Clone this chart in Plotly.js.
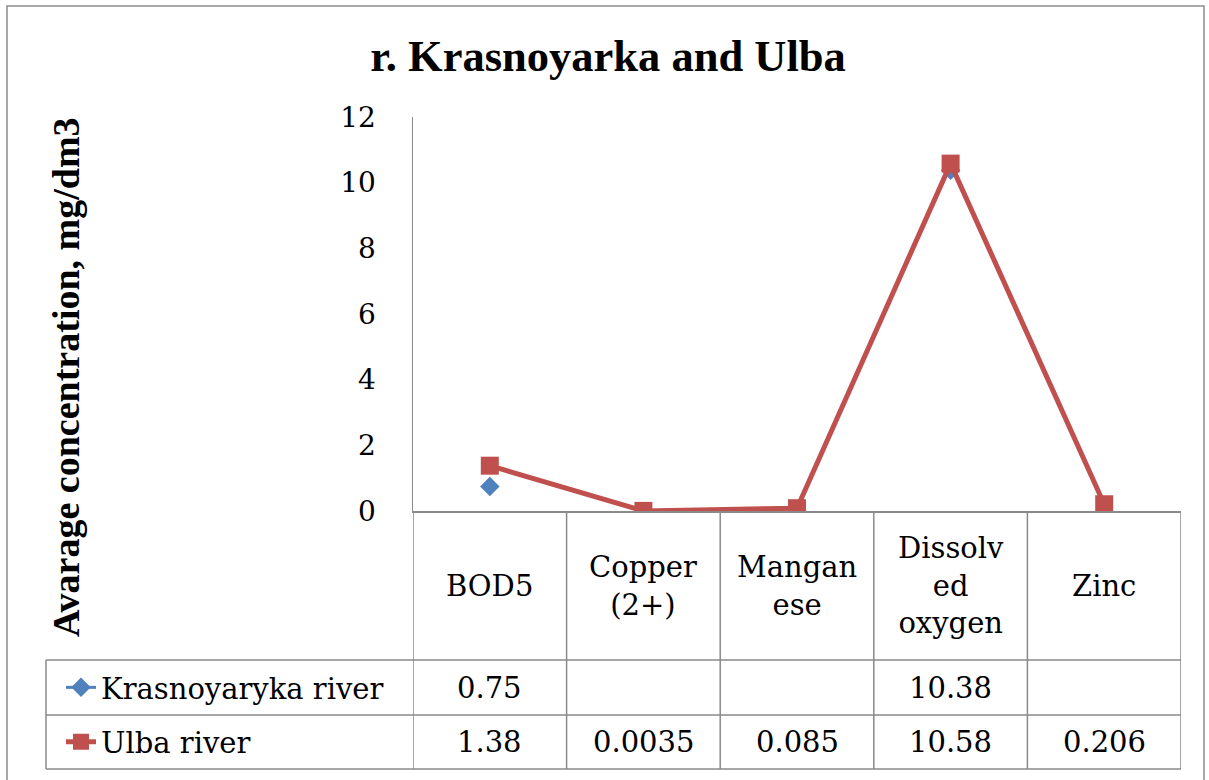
<!DOCTYPE html>
<html>
<head>
<meta charset="utf-8">
<script src="https://cdn.plot.ly/plotly-3.0.1.min.js"></script>
<style>html,body{margin:0;padding:0;background:#fff;}#chart{width:1209px;height:780px;}</style>
</head>
<body>
<div id="chart"></div>
<script>
// ---- data ----
const categories = ["BOD5", "Copper<br>(2+)", "Mangan<br>ese", "Dissolv<br>ed<br>oxygen", "Zinc"];
const seriesNames = ["Krasnoyaryka river", "Ulba river"];
const krasnoyarka = [0.75, null, null, 10.38, null];
const ulba = [1.38, 0.0035, 0.085, 10.58, 0.206];
const yTicks = [0, 2, 4, 6, 8, 10, 12];
const chartTitle = "r. Krasnoyarka and Ulba";
const yTitle = "Avarage concentration, mg/dm3";

// ---- layout helpers (pixel -> paper) ----
const W = 1209, H = 780;
const L = 413, R = 1181, T = 117, B = 511;
const px = v => (v - L) / (R - L);
const py = v => (B - v) / (B - T);
const FONT = "DejaVu Serif, serif";
const FONT_BOLD = "Liberation Serif, serif";
const GRID = "#8a8a8a";

const idx = categories.map((_, i) => i);

const traces = [
  {
    x: idx, y: krasnoyarka, name: seriesNames[0], type: "scatter", mode: "lines+markers",
    connectgaps: false,
    line: {color: "#4F81BD", width: 3},
    marker: {symbol: "diamond", size: 15, color: "#4F81BD"},
    legend: "legend", hoverinfo: "skip"
  },
  {
    x: idx, y: ulba, name: seriesNames[1], type: "scatter", mode: "lines+markers",
    line: {color: "#C0504D", width: 5},
    marker: {symbol: "square", size: 18, color: "#C0504D"},
    legend: "legend2", hoverinfo: "skip"
  }
];

const shapes = [];
// outer chart border
shapes.push({type: "rect", xref: "paper", yref: "paper", x0: px(7), x1: px(1204), y0: py(800), y1: py(6),
  line: {color: "#8c8c8c", width: 1.5}, layer: "below"});
// table vertical lines at category boundaries
for (let i = 0; i <= categories.length; i++) {
  shapes.push({type: "line", xref: "x", yref: "paper", x0: i - 0.5, x1: i - 0.5, y0: py(511), y1: py(769),
    line: {color: GRID, width: 1.5}, layer: "below"});
}
// table horizontal lines
[660, 715, 769].forEach(v => {
  shapes.push({type: "line", xref: "paper", yref: "paper", x0: px(46), x1: 1, y0: py(v), y1: py(v),
    line: {color: GRID, width: 1.5}, layer: "below"});
});
// legend column left edge
shapes.push({type: "line", xref: "paper", yref: "paper", x0: px(46), x1: px(46), y0: py(660), y1: py(769),
  line: {color: GRID, width: 1.5}, layer: "below"});

const annotations = [];
categories.forEach((c, i) => {
  annotations.push({xref: "x", yref: "paper", x: i, y: py(585.5), text: c, showarrow: false,
    xanchor: "center", yanchor: "middle", align: "center", font: {family: FONT, size: 29, color: "#000"}});
});
const rowsY = [687.5, 742];
[krasnoyarka, ulba].forEach((s, r) => {
  s.forEach((v, i) => {
    if (v === null) return;
    annotations.push({xref: "x", yref: "paper", x: i, y: py(rowsY[r]), text: String(v), showarrow: false,
      xanchor: "center", yanchor: "middle", font: {family: FONT, size: 29, color: "#000"}});
  });
});
// y axis title (placed to match the reference position)
annotations.push({xref: "paper", yref: "paper", x: px(66), y: py(377), text: yTitle, textangle: -90,
  showarrow: false, xanchor: "center", yanchor: "middle",
  font: {family: FONT_BOLD, size: 38, weight: "bold", color: "#000"}});

const legendBase = {xref: "paper", yref: "paper", xanchor: "left", yanchor: "middle",
  bgcolor: "rgba(0,0,0,0)", borderwidth: 0, font: {family: FONT, size: 29, color: "#000"},
  itemwidth: 30};

const layout = {
  width: W, height: H,
  margin: {l: L, r: W - R, t: T, b: H - B, pad: 0},
  paper_bgcolor: "#fff", plot_bgcolor: "#fff",
  font: {family: FONT},
  title: {text: chartTitle, xref: "container", yref: "container", x: 608 / W, y: 1 - 55 / H,
    xanchor: "center", yanchor: "middle",
    font: {family: FONT_BOLD, size: 44.5, weight: "bold", color: "#000"}},
  xaxis: {range: [-0.5, categories.length - 0.5], showticklabels: false, ticks: "", showgrid: false,
    zeroline: false, showline: true, linecolor: GRID, linewidth: 1.5, fixedrange: true},
  yaxis: {range: [0, 12], tickvals: yTicks, ticktext: yTicks.map(String), showgrid: false, zeroline: false,
    showline: true, linecolor: GRID, linewidth: 1.5, ticks: "", ticklabelstandoff: 30,
    tickfont: {family: FONT, size: 28, color: "#000"}, fixedrange: true},
  showlegend: true,
  legend: Object.assign({}, legendBase, {x: px(61), y: py(687.5)}),
  legend2: Object.assign({}, legendBase, {x: px(61), y: py(742)}),
  shapes: shapes,
  annotations: annotations
};

Plotly.newPlot("chart", traces, layout, {displayModeBar: false, staticPlot: true});
</script>
</body>
</html>
